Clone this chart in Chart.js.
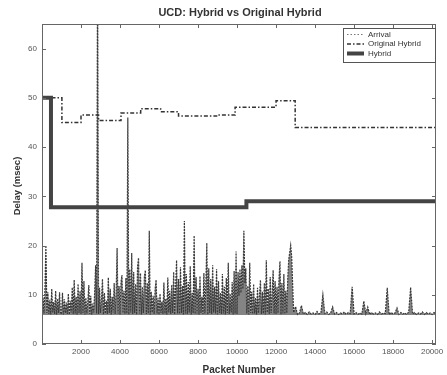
<!DOCTYPE html>
<html>
<head>
<meta charset="utf-8">
<script src="https://cdn.jsdelivr.net/npm/chart.js@4"></script>
<style>
html,body{margin:0;padding:0;background:#fff;}
canvas{display:block;}
</style>
</head>
<body>
<canvas id="c" width="447" height="375"></canvas>
<script>
// ---- Data ----
const chartTitle = "UCD: Hybrid vs Original Hybrid";
const xTitle = "Packet Number";
const yTitle = "Delay (msec)";
const legendLabels = ["Arrival", "Original Hybrid", "Hybrid"];
const xTicks = [2000, 4000, 6000, 8000, 10000, 12000, 14000, 16000, 18000, 20000];
const yTicks = [0, 10, 20, 30, 40, 50, 60];
const xMin = 0, xMax = 20200, yMin = 0, yMax = 65;

// Hybrid (step changes)
const hybridX = [0, 460, 460, 10480, 10480, 20200];
const hybridY = [50, 50, 27.8, 27.8, 29, 29];

// Original Hybrid (step changes)
const origX = [0, 1020, 1020, 2000, 2000, 2900, 2900, 4050, 4050, 5060, 5060, 6080, 6080, 7000, 7000, 8950, 8950, 9900, 9900, 12000, 12000, 12980, 12980, 20200];
const origY = [50, 50, 45.0, 45.0, 46.5, 46.5, 45.4, 45.4, 46.9, 46.9, 47.8, 47.8, 47.2, 47.2, 46.3, 46.3, 46.5, 46.5, 48.1, 48.1, 49.4, 49.4, 44.0, 44.0];

// Arrival delay samples, packets 0..12800 every 50 packets
const arrivalDenseStart = 0, arrivalDenseStep = 50;
const arrivalDense = [
  6, 9.5, 6.2, 11, 20, 6.3, 10.5, 6.1, 9, 6, 11.2, 6.4, 8.5, 6.1, 10.8, 6, 9.2, 6.3, 10.5, 6.1,
  6.2, 10.4, 6, 9.1, 6.3, 8.4, 6.1, 10.2, 6, 8.8, 6.4, 11.5, 6.1, 13, 6.2, 9.6, 6, 12.2, 6.3, 10.8,
  6.1, 16.5, 6.3, 12.8, 6, 9.4, 6.2, 8.6, 12, 6.1, 9.8, 6, 8.2, 6.4, 10.6, 16, 6.2, 80, 6.1, 11.4,
  6.3, 9.2, 13.2, 6, 10.4, 6.2, 8.8, 6.1, 13.5, 6.3, 11.2, 6, 9.6, 6.4, 12.4, 6.1, 10.2, 19.5, 6.2, 11.8,
  6, 12.6, 14, 6.3, 10.8, 6.1, 13.4, 6.2, 46, 6, 15.2, 6.4, 18.5, 6.1, 14.6, 6.3, 12.2, 6, 15.8, 17.5,
  6.2, 14.4, 6, 11.6, 6.3, 13.8, 15, 6.1, 12.4, 6.2, 23, 6, 10.6, 6.4, 9.8, 6.1, 11.2, 13, 6.2, 9.4,
  6, 10.2, 6.3, 8.6, 6.1, 12.5, 6.2, 9.2, 6, 13.5, 6.4, 10.8, 6.1, 12, 6.3, 14.6, 6, 11.4, 17, 6.2,
  13.2, 6.1, 15.6, 6.3, 11.8, 6, 25, 6.2, 14.2, 6.1, 12.6, 6.4, 15.8, 6, 10.4, 6.3, 22, 6.1, 13.6, 6.2,
  11.2, 6, 13.8, 6.3, 9.6, 6.1, 14.4, 6.2, 12.2, 20.5, 6, 15.4, 6.3, 13.2, 6.1, 16, 6.4, 11.6, 6.2, 15.2,
  6, 12.8, 6.3, 10.4, 6.1, 14.2, 6.2, 11.6, 6, 13.4, 6.3, 16.5, 6.1, 10.2, 6.4, 12.6, 6, 14.8, 6.2, 18.8,
  6.1, 14.6, 9.8, 15.2, 10.4, 16, 11.2, 23, 12.4, 15.4, 6.2, 11.8, 6, 16.5, 6.3, 10.6, 6.1, 12.2, 6.2, 9.4,
  6, 11.4, 6.3, 9.8, 13, 6.1, 10.6, 6.2, 12.4, 6, 17, 6.4, 11.2, 6.1, 13.6, 6.3, 10.2, 15, 6.2, 12.8,
  6.1, 11.6, 6.3, 13.2, 16.8, 6, 12.4, 6.2, 14.2, 6.1, 10.8, 6.3, 13.4, 17.2, 18.6, 20, 17.8
];
// Arrival delay samples, packets 12900..20200 every 100 packets
const arrivalSparseStart = 12900, arrivalSparseStep = 100;
const arrivalSparse = [
  6.4, 7.6, 6, 6.3, 7.8, 6.1, 6.4, 6, 6.5, 6.1,
  6.3, 6, 6.6, 6.1, 6.4, 10, 6.2, 6.5, 6, 6.3,
  7.5, 6.1, 6.4, 6, 6.3, 6.1, 6.5, 6, 6.4, 6.2,
  11.6, 6.1, 6.4, 6, 6.3, 6.1, 8.7, 6.2, 7.5, 6,
  6.4, 6.1, 6.3, 6, 6.5, 6.1, 6.3, 6.2, 11.4, 6,
  6.4, 6.1, 6.3, 7.3, 6, 6.4, 6.1, 6.3, 6, 6.5,
  11.5, 6.1, 6.4, 6, 6.3, 6.1, 6.5, 6, 6.4, 6.1,
  6.3, 6, 6.4, 6.1
];
const arrivalBase = 5.9;

// ---- Build ----
const arrivalPts = arrivalDense.map((v, i) => ({x: arrivalDenseStart + i * arrivalDenseStep, y: v}))
  .concat(arrivalSparse.map((v, i) => ({x: arrivalSparseStart + i * arrivalSparseStep, y: v})));
const hybridPts = hybridX.map((x, i) => ({x, y: hybridY[i]}));
const origPts = origX.map((x, i) => ({x, y: origY[i]}));

const FONT = "'Liberation Sans', Arial, Helvetica, sans-serif";
const AXIS_COLOR = '#666';

const decor = {
  id: 'decor',
  afterDraw(chart) {
    const ctx = chart.ctx;
    const a = chart.chartArea;
    const xs = chart.scales.x, ys = chart.scales.y;
    ctx.save();
    ctx.strokeStyle = AXIS_COLOR;
    ctx.lineWidth = 1;
    ctx.strokeRect(a.left + 0.5, a.top + 0.5, a.right - a.left - 1, a.bottom - a.top - 1);
    ctx.beginPath();
    xTicks.forEach(v => {
      const px = Math.round(xs.getPixelForValue(v)) + 0.5;
      ctx.moveTo(px, a.bottom); ctx.lineTo(px, a.bottom - 4);
      ctx.moveTo(px, a.top); ctx.lineTo(px, a.top + 4);
    });
    yTicks.forEach(v => {
      const py = Math.round(ys.getPixelForValue(v)) + 0.5;
      ctx.moveTo(a.left, py); ctx.lineTo(a.left + 4, py);
      ctx.moveTo(a.right, py); ctx.lineTo(a.right - 4, py);
    });
    ctx.stroke();

    ctx.fillStyle = '#333';
    ctx.textAlign = 'center';
    ctx.textBaseline = 'middle';
    ctx.font = 'bold 11px ' + FONT;
    ctx.fillText(chartTitle, 240, 13);
    ctx.font = 'bold 10px ' + FONT;
    ctx.fillText(xTitle, 239, 370);
    ctx.save();
    ctx.translate(17, 186);
    ctx.rotate(-Math.PI / 2);
    ctx.font = 'bold 9.5px ' + FONT;
    ctx.fillText(yTitle, 0, 0);
    ctx.restore();

    const lx = 343, ly = 28, lw = 92, lh = 34;
    ctx.fillStyle = '#fff';
    ctx.fillRect(lx, ly, lw, lh);
    ctx.strokeStyle = '#555';
    ctx.lineWidth = 1;
    ctx.strokeRect(lx + 0.5, ly + 0.5, lw, lh);
    const rows = [34.5, 44, 53.5];
    const styles = [
      {color: '#777', width: 1, dash: [1.5, 2]},
      {color: '#333', width: 1.5, dash: [4, 2, 1.5, 2]},
      {color: '#444', width: 4, dash: []}
    ];
    rows.forEach((y, i) => {
      ctx.beginPath();
      ctx.strokeStyle = styles[i].color;
      ctx.lineWidth = styles[i].width;
      ctx.setLineDash(styles[i].dash);
      ctx.moveTo(347, y); ctx.lineTo(364, y);
      ctx.stroke();
      ctx.setLineDash([]);
      ctx.fillStyle = '#333';
      ctx.textAlign = 'left';
      ctx.font = '8px ' + FONT;
      ctx.fillText(legendLabels[i], 368, y);
    });
    ctx.restore();
  }
};

new Chart(document.getElementById('c'), {
  type: 'scatter',
  data: {
    datasets: [
      {label: legendLabels[0], data: arrivalPts, showLine: true, borderColor: '#3a3a3a', borderWidth: 1.2,
       borderDash: [2, 1], pointRadius: 0, tension: 0, order: 3,
       fill: {value: arrivalBase}, backgroundColor: 'rgba(50,50,50,0.6)'},
      {label: legendLabels[1], data: origPts, showLine: true, borderColor: '#333', borderWidth: 1.5,
       borderDash: [4, 2, 1.5, 2], pointRadius: 0, tension: 0, order: 2, fill: false},
      {label: legendLabels[2], data: hybridPts, showLine: true, borderColor: '#444', borderWidth: 4,
       pointRadius: 0, tension: 0, order: 1, borderCapStyle: 'butt', borderJoinStyle: 'miter', fill: false}
    ]
  },
  options: {
    responsive: false,
    animation: false,
    devicePixelRatio: 1,
    layout: {padding: {top: 24, right: 11, bottom: 0, left: 0}},
    plugins: {legend: {display: false}, title: {display: false}, tooltip: {enabled: false},
              filler: {propagate: false}},
    scales: {
      x: {
        type: 'linear', min: xMin, max: xMax,
        afterFit: s => { s.height = 31; },
        afterBuildTicks: s => { s.ticks = xTicks.map(v => ({value: v})); },
        grid: {display: false, drawTicks: false},
        border: {display: false},
        ticks: {autoSkip: false, maxRotation: 0, padding: 3, color: '#555',
                font: {family: FONT, size: 8}, callback: v => String(v)}
      },
      y: {
        type: 'linear', min: yMin, max: yMax,
        afterFit: s => { s.width = 42; },
        afterBuildTicks: s => { s.ticks = yTicks.map(v => ({value: v})); },
        grid: {display: false, drawTicks: false},
        border: {display: false},
        ticks: {padding: 5, color: '#555', font: {family: FONT, size: 8}, callback: v => String(v)}
      }
    }
  },
  plugins: [decor]
});
</script>
</body>
</html>
